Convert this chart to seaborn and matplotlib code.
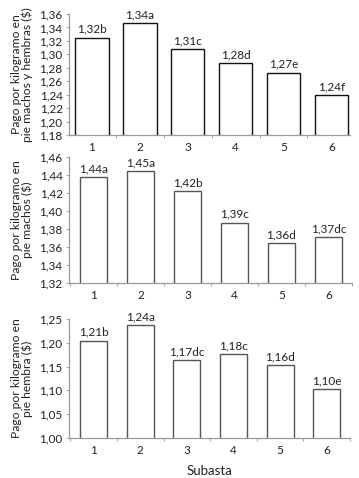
import matplotlib
matplotlib.use("Agg")
import matplotlib.pyplot as plt
import seaborn as sns
import pandas as pd
from matplotlib.ticker import FuncFormatter, MultipleLocator, FixedLocator

subasta = ["1", "2", "3", "4", "5", "6"]

ambos_vals = [1.325, 1.346, 1.3075, 1.287, 1.273, 1.239]
ambos_labels = ["1,32b", "1,34a", "1,31c", "1,28d", "1,27e", "1,24f"]

machos_vals = [1.438, 1.445, 1.422, 1.387, 1.364, 1.371]
machos_labels = ["1,44a", "1,45a", "1,42b", "1,39c", "1,36d", "1,37dc"]

hembras_vals = [1.205, 1.237, 1.164, 1.177, 1.154, 1.102]
hembras_labels = ["1,21b", "1,24a", "1,17dc", "1,18c", "1,16d", "1,10e"]

sns.set_theme(style="ticks")
plt.rcParams['font.family'] = ['Lato', 'DejaVu Sans']

fig = plt.figure(figsize=(3.59, 4.78), dpi=100)

panels = [
    dict(vals=ambos_vals, labels=ambos_labels, pos=[0.192, 0.7176, 0.783, 0.253],
         ylim=(1.18, 1.36), step=0.02, xlim=(-0.48, 5.39), width=0.7, edge="#111111",
         ylabel="Pago por kilogramo en\npie machos y hembras ($)"),
    dict(vals=machos_vals, labels=machos_labels, pos=[0.192, 0.4086, 0.788, 0.2623],
         ylim=(1.32, 1.46), step=0.02, xlim=(-0.53, 5.5), width=0.58, edge="#555555",
         ylabel="Pago por kilogramo en\npie machos ($)"),
    dict(vals=hembras_vals, labels=hembras_labels, pos=[0.192, 0.0843, 0.783, 0.2477],
         ylim=(1.00, 1.25), step=0.05, xlim=(-0.53, 5.5), width=0.58, edge="#555555",
         ylabel="Pago por kilogramo en\npie hembra ($)"),
]

for i, p in enumerate(panels):
    ax = fig.add_axes(p["pos"])
    df = pd.DataFrame({"Subasta": subasta, "Pago": p["vals"]})
    sns.barplot(data=df, x="Subasta", y="Pago", ax=ax, color="white",
                edgecolor=p["edge"], linewidth=1.0, width=p["width"],
                saturation=1, errorbar=None)
    for bar in ax.patches:
        bar.set_facecolor("white")
    ax.bar_label(ax.containers[0], labels=p["labels"], padding=2, fontsize=8.5, color="#222222")
    ax.set_ylim(*p["ylim"])
    ax.set_xlim(*p["xlim"])
    ax.yaxis.set_major_locator(MultipleLocator(p["step"]))
    ax.yaxis.set_major_formatter(FuncFormatter(lambda v, pos: f"{v:.2f}".replace(".", ",")))
    ax.xaxis.set_minor_locator(FixedLocator([k + 0.5 for k in range(-1, 6)]))
    ax.tick_params(axis="x", which="major", length=0, labelsize=8.5, pad=5, colors="#222222")
    ax.tick_params(axis="x", which="minor", length=2, color="#aaaaaa", width=0.8)
    ax.tick_params(axis="y", which="major", length=2.5, labelsize=8.5, pad=2,
                   color="#aaaaaa", labelcolor="#222222", width=0.8)
    for s in ["top", "right"]:
        ax.spines[s].set_visible(False)
    for s in ["left", "bottom"]:
        ax.spines[s].set_color("#999999")
        ax.spines[s].set_linewidth(0.9)
    ax.set_ylabel(p["ylabel"], fontsize=8.7, color="#222222", linespacing=0.95)
    ax.yaxis.set_label_coords(-0.128, 0.5)
    if i == 2:
        ax.set_xlabel("Subasta", fontsize=9.5, color="#222222", labelpad=7)
    else:
        ax.set_xlabel("")

fig.savefig("out.png", dpi=100)
